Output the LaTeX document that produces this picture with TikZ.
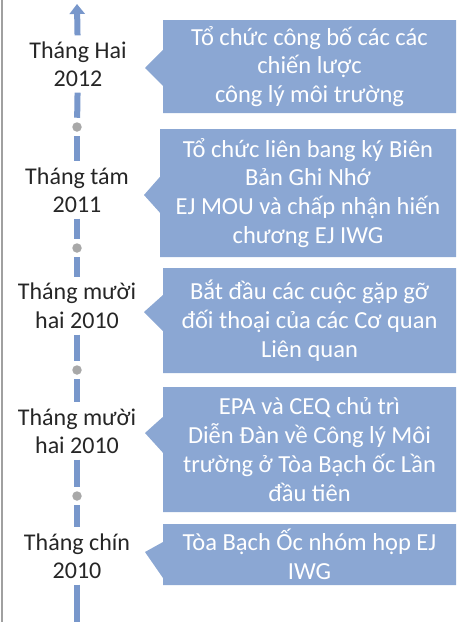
\documentclass[tikz,border=0pt]{standalone}
\usepackage{fontspec}
\setmainfont{Carlito}
\usetikzlibrary{arrows.meta,shapes.callouts,positioning}

\definecolor{boxblue}{RGB}{139,167,211}
\definecolor{barblue}{RGB}{120,151,203}
\definecolor{dotgray}{RGB}{168,168,168}
\definecolor{framegray}{RGB}{160,160,160}

\begin{document}
\begin{tikzpicture}[x=1pt,y=-1pt,
    eventbox/.style={
    % The shape:
    rectangle callout,minimum width=293pt,callout pointer width=36pt,
    % The rest
    fill=boxblue,text=white,align=center,inner sep=0pt,
    font=\fontsize{24.5}{28.8}\selectfont},
    datelabel/.style={
    minimum height=57pt,inner sep=0pt,align=center,
    text=black!85,font=\fontsize{24}{28.5}\selectfont},
    milestone/.style={circle,fill=dotgray,minimum size=9.5pt,inner sep=0pt,outer sep=4.5pt},
    timebar/.style={barblue,line width=6pt}]
    \useasboundingbox (0,0) rectangle (463,622);
    % frame line on the left
    \draw[framegray,line width=2pt] (1.5,0) -- (1.5,622);
    % dates on the time line
    \node (l1) [datelabel] at (78,64) {Tháng Hai\\2012};
    \node (l2) [datelabel] at (77,190) {Tháng tám\\2011};
    \node (l3) [datelabel] at (77,306) {Tháng mười\\hai 2010};
    \node (l4) [datelabel] at (77,431) {Tháng mười\\hai 2010};
    \node (l5) [datelabel] at (77,556) {Tháng chín\\2010};
    \node (d1) [milestone] at (77,127) {};
    \node (d2) [milestone] at (77,248) {};
    \node (d3) [milestone] at (77,370) {};
    \node (d4) [milestone] at (77,496) {};
    \coordinate (top) at (77,4);
    \coordinate (bottom) at (77,622);
    % the bar pieces
    \draw[timebar,-{Triangle[width=15pt,length=10pt]}] (l1) -- (top);
    \draw[timebar] (l1) -- (d1);
    \draw[timebar] (d1) -- (l2);
    \draw[timebar] (l2) -- (d2);
    \draw[timebar] (d2) -- (l3);
    \draw[timebar] (l3) -- (d3);
    \draw[timebar] (d3) -- (l4);
    \draw[timebar] (l4) -- (d4);
    \draw[timebar] (d4) -- (l5);
    \draw[timebar] (l5) -- (bottom);
    % the events
    \node (e1) [eventbox,minimum height=93pt,callout absolute pointer={(145,68)}]
        at (309.5,66.5) {Tổ chức công bố các các\\ chiến lược\\ công lý môi trường};
    \node (e2) [eventbox,minimum width=296pt,minimum height=128pt,callout absolute pointer={(144,195)}]
        at (308,193) {Tổ chức liên bang ký Biên\\ Bản Ghi Nhớ\\ EJ MOU và chấp nhận hiến\\ chương EJ IWG};
    \node (e3) [eventbox,minimum height=105pt,callout absolute pointer={(144,312)}]
        at (309.5,320.5) {Bắt đầu các cuộc gặp gỡ\\ đối thoại của các Cơ quan\\ Liên quan};
    \node (e4) [eventbox,minimum height=125pt,callout absolute pointer={(145,433)}]
        at (309.5,449.5) {EPA và CEQ chủ trì\\ Diễn Đàn về Công lý Môi\\ trường ở Tòa Bạch ốc Lần\\ đầu tiên};
    \node (e5) [eventbox,minimum height=61pt,callout absolute pointer={(145,552)}]
        at (309.5,554.5) {Tòa Bạch Ốc nhóm họp EJ\\ IWG};
\end{tikzpicture}
\end{document}
